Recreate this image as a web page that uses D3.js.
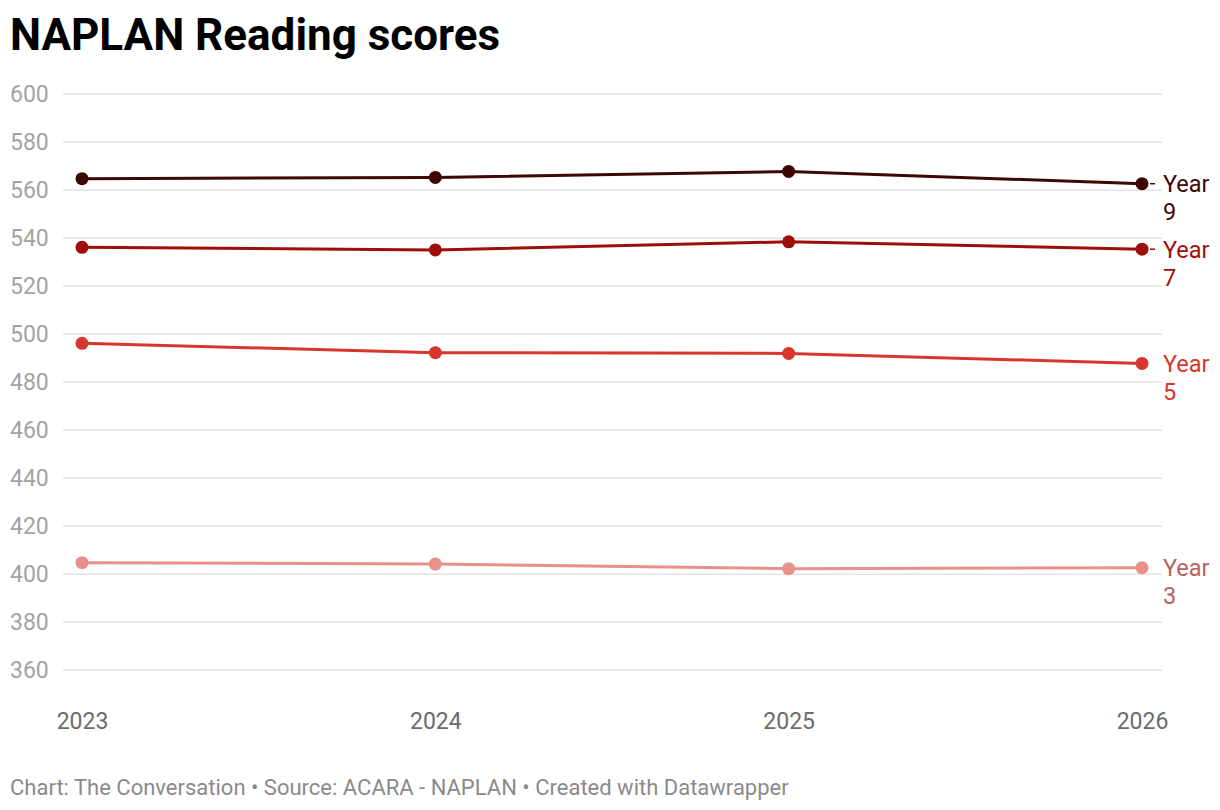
<!DOCTYPE html>
<html>
<head>
<meta charset="utf-8">
<script src="https://cdn.jsdelivr.net/npm/d3@7"></script>
<style>
  body { margin: 0; background: #fff; }
  svg text { font-family: Roboto, "Noto Sans", sans-serif; }
</style>
</head>
<body>
<svg width="1220" height="810"></svg>
<script>
// data
const years = [2023, 2024, 2025, 2026];
const year9 = [564.6, 565.1, 567.6, 562.5];
const year7 = [536.0, 534.9, 538.3, 535.2];
const year5 = [496.0, 492.1, 491.8, 487.6];
const year3 = [404.6, 404.0, 402.1, 402.5];
const yTicks = [360, 380, 400, 420, 440, 460, 480, 500, 520, 540, 560, 580, 600];

const series = [
    { name: "Year 9", label: ["Year", "9"], values: year9, line: "#3d0704", text: "#3d0704", connector: true },
    { name: "Year 7", label: ["Year", "7"], values: year7, line: "#9e0f0a", text: "#9e0f0a", connector: true },
    { name: "Year 5", label: ["Year", "5"], values: year5, line: "#d8362d", text: "#d8362d", connector: false },
    { name: "Year 3", label: ["Year", "3"], values: year3, line: "#e8918a", text: "#b8625d", connector: false }
];

const svg = d3.select("svg");

const gridLeft = 63, gridRight = 1162;
const x = d3.scaleLinear().domain([2023, 2026]).range([82, 1142]);
const y = d3.scaleLinear().domain([360, 600]).range([669.7, 93.7]);

// title
svg.append("text")
    .attr("x", 10).attr("y", 50)
    .style("font-size", "44px")
    .style("font-weight", "700")
    .style("fill", "#000")
    .text("NAPLAN Reading scores");

// y axis + grid
const yAxis = svg.append("g")
    .attr("transform", `translate(${gridRight},0)`)
    .call(d3.axisLeft(y).tickValues(yTicks).tickSize(gridRight - gridLeft).tickPadding(0));
yAxis.select(".domain").remove();
yAxis.selectAll("line").style("stroke", "#e3e3e3").style("stroke-width", 1.5);
yAxis.selectAll("text")
    .attr("x", -(gridRight - 10))
    .attr("dy", "0.35em")
    .style("text-anchor", "start")
    .style("font-size", "23px")
    .style("fill", "#a3a3a3");

// x axis
const xAxis = svg.append("g")
    .attr("transform", "translate(0,700)")
    .call(d3.axisBottom(x).tickValues(years).tickFormat(d3.format("d")).tickSize(0).tickPadding(0));
xAxis.select(".domain").remove();
xAxis.selectAll("text")
    .attr("y", 29).attr("dy", 0)
    .style("font-size", "23px")
    .style("fill", "#6b6b6b");

// lines
const line = d3.line()
    .x((d, i) => x(years[i]))
    .y(d => y(d));

const lineGroups = svg.selectAll(".serie")
    .data(series)
    .join("g")
    .attr("class", "serie");

lineGroups.append("path")
    .attr("d", d => line(d.values))
    .style("fill", "none")
    .style("stroke", d => d.line)
    .style("stroke-width", 3);

lineGroups.selectAll("circle")
    .data(d => d.values.map((v, i) => ({ v: v, yr: years[i], c: d.line })))
    .join("circle")
    .attr("cx", d => x(d.yr))
    .attr("cy", d => y(d.v))
    .attr("r", 6.5)
    .style("fill", d => d.c);

// end labels
const last = years.length - 1;
lineGroups.filter(d => d.connector)
    .append("line")
    .attr("x1", x(years[last]) + 8)
    .attr("x2", x(years[last]) + 13)
    .attr("y1", d => y(d.values[last]))
    .attr("y2", d => y(d.values[last]))
    .style("stroke", d => d.line)
    .style("stroke-width", 1.5);

const labels = lineGroups.append("text")
    .attr("x", gridRight + 1)
    .attr("y", d => y(d.values[last]) + 8.5)
    .style("font-size", "23.5px")
    .style("fill", d => d.text);

labels.selectAll("tspan")
    .data(d => d.label)
    .join("tspan")
    .attr("x", gridRight + 1)
    .attr("dy", (d, i) => i === 0 ? 0 : 28)
    .text(d => d);

// footer
svg.append("text")
    .attr("x", 10).attr("y", 795)
    .style("font-size", "22px")
    .style("fill", "#8a8a8a")
    .text("Chart: The Conversation \u2022 Source: ACARA - NAPLAN \u2022 Created with Datawrapper");
</script>
</body>
</html>
